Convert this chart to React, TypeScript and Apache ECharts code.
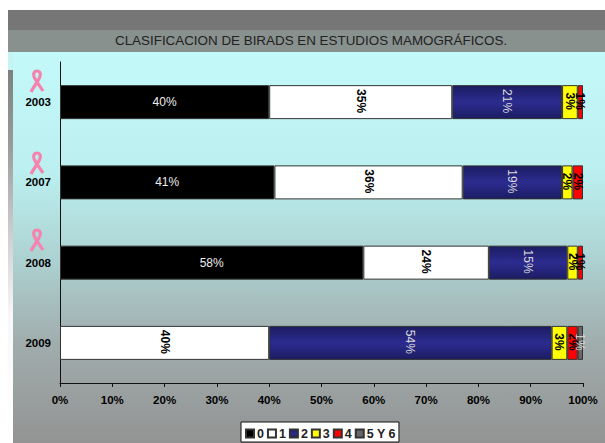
import React, { useEffect, useRef } from "react";
import * as echarts from "echarts";

const title = "CLASIFICACION DE BIRADS EN ESTUDIOS MAMOGRÁFICOS.";
const years = ["2003", "2007", "2008", "2009"];
const seriesNames = ["0", "1", "2", "3", "4", "5 Y 6"];
const s0 = [40, 41, 58, null];
const s1 = [35, 36, 24, 40];
const s2 = [21, 19, 15, 54];
const s3 = [3, 2, 2, 3];
const s4 = [1, 2, 1, 2];
const s5 = [null, null, null, 1];
const ribbonYears = ["2003", "2007", "2008"];

const FONT = "'Liberation Sans', Arial, sans-serif";
const ribbonPath =
  "M1,22 C4,16 8.5,11 10,6.5 C11,3 9.5,1 7,1 C4.5,1 3,3 4,6.5 C5.5,11 10,16 13,21";

const blue = {
  type: "linear", x: 0, y: 0, x2: 0, y2: 1,
  colorStops: [
    { offset: 0, color: "#1c1c62" },
    { offset: 0.5, color: "#2c2c90" },
    { offset: 1, color: "#1c1c62" },
  ],
};

export default function App() {
  const ref = useRef<HTMLDivElement>(null);
  useEffect(() => {
    document.body.style.margin = "0";
    document.body.style.background = "#fff";
    echarts.graphic.registerShape("ribbon", echarts.graphic.extendPath(ribbonPath, {}) as any);
    const chart = echarts.init(ref.current!, undefined, { renderer: "svg" });

    const makeSeries = (
      i: number, data: (number | null)[], color: any,
      labelColor: string, bold: boolean, rotate: number,
    ) => ({
      name: seriesNames[i],
      type: "bar",
      stack: "t",
      data,
      barWidth: 34,
      itemStyle: { color, borderColor: "#333", borderWidth: 1 },
      label: {
        show: true,
        position: "inside",
        rotate,
        offset: rotate ? [-1, 0] : [0, 0],
        formatter: "{c}%",
        color: labelColor,
        fontFamily: FONT,
        fontSize: 12,
        fontWeight: bold ? "bold" : "normal",
      },
    });

    const ribbonY = [70, 152, 229];
    chart.setOption({
      animation: false,
      textStyle: { fontFamily: FONT },
      title: {
        text: title,
        left: 115,
        top: 34,
        padding: 0,
        textStyle: { fontFamily: FONT, fontSize: 13.4, fontWeight: "normal", color: "#222" },
      },
      grid: { left: 60, width: 523, top: 62, height: 321, containLabel: false },
      xAxis: {
        type: "value",
        min: 0,
        max: 100,
        interval: 10,
        axisLine: { show: true, lineStyle: { color: "#111" } },
        axisTick: { show: true, length: 4, lineStyle: { color: "#111" } },
        splitLine: { show: false },
        axisLabel: {
          formatter: "{value}%",
          color: "#000",
          fontFamily: FONT,
          fontSize: 11.5,
          fontWeight: "bold",
          margin: 11,
        },
      },
      yAxis: {
        type: "category",
        inverse: true,
        data: years,
        axisLine: { show: true, onZero: false, lineStyle: { color: "#111" } },
        axisTick: { show: false },
        axisLabel: { color: "#000", fontFamily: FONT, fontSize: 11.5, fontWeight: "bold", margin: 9 },
      },
      legend: {
        left: 241,
        top: 422,
        width: 300,
        padding: [5, 3, 2, 4],
        backgroundColor: "#fff",
        borderColor: "#111",
        borderWidth: 1,
        borderRadius: 0,
        icon: "rect",
        itemWidth: 8,
        itemHeight: 8,
        itemGap: 3,
        data: seriesNames,
        textStyle: { color: "#222", fontFamily: FONT, fontSize: 12.5, fontWeight: "bold", padding: [0, 0, 0, -2] },
      },
      graphic: [
        { type: "rect", z: -10, silent: true, shape: { x: 8, y: 10, width: 597, height: 20 }, style: { fill: "#767676" } },
        { type: "rect", z: -10, silent: true, shape: { x: 8, y: 30, width: 597, height: 22 }, style: { fill: "#89918f" } },
        { type: "rect", z: -10, silent: true, shape: { x: 8, y: 52, width: 5, height: 18 }, style: { fill: "#c4f4f4" } },
        {
          type: "rect", z: -10, silent: true,
          shape: { x: 13, y: 52, width: 592, height: 391 },
          style: {
            fill: new echarts.graphic.LinearGradient(0, 0, 0, 1, [
              { offset: 0, color: "#c4f9f9" },
              { offset: 0.3, color: "#bcf0f0" },
              { offset: 0.5, color: "#afd6d6" },
              { offset: 0.75, color: "#a0acac" },
              { offset: 1, color: "#939393" },
            ]),
          },
        },
        {
          type: "rect", z: -10, silent: true,
          shape: { x: 8, y: 70, width: 5, height: 373 },
          style: {
            fill: new echarts.graphic.LinearGradient(0, 0, 0, 1, [
              { offset: 0, color: "#808080" },
              { offset: 0.2, color: "#9a9a9a" },
              { offset: 0.45, color: "#d0d0d0" },
              { offset: 0.66, color: "#f8f8f8" },
              { offset: 1, color: "#ffffff" },
            ]),
          },
        },
        ...ribbonYears.map((y, i) => ({
          type: "ribbon",
          x: 30,
          y: ribbonY[i],
          z: 5,
          silent: true,
          style: { fill: "none", stroke: "#f583ad", lineWidth: 3.2 },
        })),
      ],
      series: [
        makeSeries(0, s0, "#000000", "#eeeeee", false, 0),
        makeSeries(1, s1, "#ffffff", "#000000", true, -90),
        makeSeries(2, s2, blue, "#dddddd", false, -90),
        makeSeries(3, s3, "#ffff00", "#000000", true, -90),
        makeSeries(4, s4, "#ff0000", "#000000", true, -90),
        makeSeries(5, s5, "#666666", "#dddddd", false, -90),
      ],
    });
    return () => chart.dispose();
  }, []);
  return <div ref={ref} style={{ width: 605, height: 443 }} />;
}
